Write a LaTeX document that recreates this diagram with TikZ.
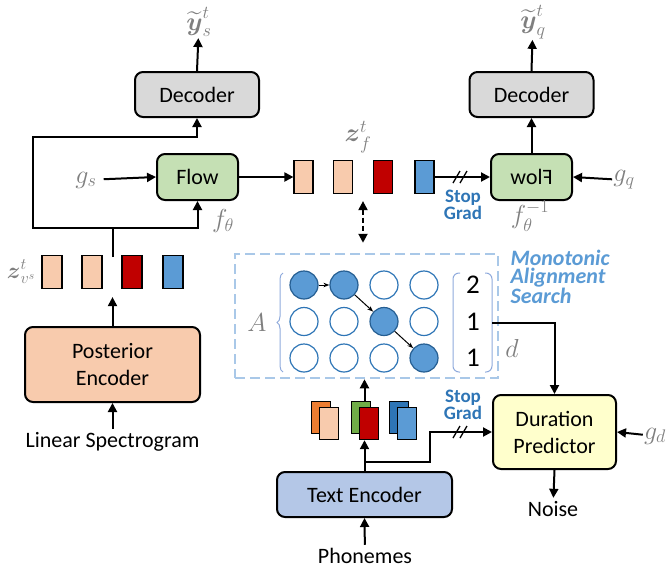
\RequirePackage{fix-cm}
\documentclass[tikz,border=0pt]{standalone}
\usepackage{amsmath}
\usepackage{amssymb}
\usepackage{fontspec}
\setmainfont{Carlito}
\usetikzlibrary{positioning}
\usetikzlibrary{decorations.pathreplacing}
\usetikzlibrary{arrows.meta,shapes}
\usetikzlibrary{calc}
\definecolor[named]{peach}{RGB}{248,203,173}
\definecolor[named]{darkred}{RGB}{192,0,0}
\definecolor[named]{midblue}{RGB}{91,155,213}
\definecolor[named]{deepblue}{RGB}{46,117,182}
\definecolor[named]{darkorange}{RGB}{237,125,49}
\definecolor[named]{leafgreen}{RGB}{112,173,71}

\begin{document}
\begin{tikzpicture}[x=1pt,y=-1pt]
    \definecolor{decgray}{RGB}{217,217,217};
    \definecolor{flowgreen}{RGB}{197,224,180};
    \definecolor{teblue}{RGB}{180,199,231};
    \definecolor{dpyellow}{RGB}{255,255,204};
    \definecolor{labgray}{RGB}{127,127,127};
    \definecolor{dashblue}{RGB}{169,200,232};
    \definecolor{braceblue}{RGB}{143,170,220};
\useasboundingbox (0,0) rectangle (670,571);
 \tikzstyle{every node}=[font=\fontsize{22}{27}\selectfont]
 \tikzstyle{box}=[draw,line width=2pt,rounded corners=8pt,align=center]
 \tikzstyle{vec}=[draw,line width=1.2pt,minimum width=20pt,minimum height=33pt,inner sep=0pt]
 \tikzstyle{lab}=[text=labgray,inner sep=1pt,font=\fontsize{26}{30}\selectfont]
 \tikzstyle{arr}=[line width=2pt,-{Triangle[length=9pt,width=9pt]}]
 \tikzstyle{sg}=[text=deepblue,align=center,font=\bfseries\fontsize{19}{16.5}\selectfont]
 \tikzstyle{dotempty}=[circle,draw=deepblue,line width=1.2pt,fill=white,minimum size=28pt,inner sep=0pt]
 \tikzstyle{dotfull}=[circle,draw=deepblue!80!black,line width=1.2pt,fill=midblue,minimum size=28pt,inner sep=0pt]
\node [box,fill=decgray,minimum width=124pt,minimum height=45pt] (decs) at (197,94.5) {Decoder};
\node [box,fill=flowgreen,minimum width=81pt,minimum height=46pt] (flows) at (197.5,177) {Flow};
\node [box,fill=peach,minimum width=175pt,minimum height=75pt] (post) at (112.5,364.5) {Posterior\\Encoder};
\node (lin) at (112.5,442) {Linear Spectrogram};
\foreach \x/\c [count=\i] in {52/peach,92/peach,132/darkred,173/midblue} {
    \node [vec,fill=\c] (zv\i) at (\x,272) {};
  }
\node [lab,font=\fontsize{23}{26}\selectfont] (zvl) at (21,272) {$\boldsymbol{z}^t_{v^s}$};
\node [lab] (ys) at (199,22) {$\widetilde{\boldsymbol{y}}^t_s$};
\node [lab] (gs) at (86,180) {$g_s$};
\node [lab] (fth) at (223,221) {$f_\theta$};
\foreach \x/\c [count=\i] in {303.5/peach,343/peach,383/darkred,424.5/midblue} {
    \node [vec,fill=\c,minimum width=19pt] (zf\i) at (\x,177) {};
  }
\node [lab] (zfl) at (358,137) {$\boldsymbol{z}^t_f$};
\node [box,fill=flowgreen,minimum width=81pt,minimum height=46pt] (flowq) at (531.5,177) {\reflectbox{Flow}};
\node [box,fill=decgray,minimum width=124pt,minimum height=45pt] (decq) at (531.5,94.5) {Decoder};
\node [lab] (yq) at (533,22) {$\widetilde{\boldsymbol{y}}^t_q$};
\node [lab] (gq) at (624,180) {$g_q$};
\node [lab] (fthi) at (530,216) {$f_\theta^{-1}$};
\node [sg] (sgq) at (463,205) {Stop\\Grad};
\node [draw=dashblue,line width=2.5pt,dash pattern=on 10pt off 5pt,minimum width=263pt,minimum height=124pt] (mas) at (366.5,316) {};
\node [anchor=west,align=left,text=midblue,font=\bfseries\itshape\fontsize{22}{18.5}\selectfont] (mast) at (507,277) {Monotonic\\Alignment\\Search};
\foreach \r in {0,1,2} {
  \foreach \c in {0,...,3} {
    \pgfmathtruncatemacro\on{(\r==0 && \c<2) || (\r>0 && \c==\r+1)}
    \ifnum\on=1 \def\dotstyle{dotfull}\else\def\dotstyle{dotempty}\fi
    \node [\dotstyle] (c\r\c) at ({304+40*\c},{285+36.5*\r}) {};
  }
}
\draw [-{Stealth[length=6pt,open]},line width=1pt] (c00) -- (c01);
\draw [-{Stealth[length=6pt,open]},line width=1pt] (c01) -- (c12);
\draw [-{Stealth[length=6pt,open]},line width=1pt] (c12) -- (c23);
\draw [braceblue,line width=1pt,decorate,decoration={brace,amplitude=6pt}] (283,372) -- (283,273);
\node [lab] (alab) at (257,323) {$A$};
\draw [braceblue,line width=1pt,rounded corners=6pt] (460,273) -- (453,273) -- (453,372) -- (460,372);
\draw [braceblue,line width=1pt,rounded corners=6pt] (485,273) -- (492,273) -- (492,372) -- (485,372);
\foreach \n/\y [count=\i] in {2/285,1/322,1/358} {
    \node [font=\fontsize{27}{30}\selectfont] (d\i) at (473,\y) {\n};
  }
\node [lab] (dl) at (512,348) {$d$};
\foreach \x/\cb/\cf [count=\i] in {311/darkorange/peach,351/leafgreen/darkred,389/deepblue/midblue} {
    \node [vec,fill=\cb,anchor=north west,minimum width=19pt,minimum height=32pt] (tb\i) at (\x,401) {};
    \node [vec,fill=\cf,anchor=north west,minimum width=19pt,minimum height=32pt] (tf\i) at (\x+8,407) {};
  }
\node [box,fill=teblue,minimum width=175pt,minimum height=45pt] (te) at (364.5,494.5) {Text Encoder};
\node (phon) at (365,556) {Phonemes};
\node [box,fill=dpyellow,minimum width=123pt,minimum height=74pt] (dp) at (554.5,432) {Duration\\Predictor};
\node (noise) at (553,509) {Noise};
\node [lab] (gd) at (655,436) {$g_d$};
\node [sg] (sgd) at (463,405) {Stop\\Grad};
\coordinate (split) at (112.5,228);
\coordinate (zvtop) at (112.5,257);
\coordinate (dout) at (492,323);
\coordinate (br) at (364.5,462);
\coordinate (zfmid) at ($(zf2.south)!0.5!(zf3.south)$);
\draw [arr] (decs.north) -- (ys);
\draw [arr,shorten <=6pt] (gs) -- (flows.west);
\draw [line width=2pt] (zvtop) -- (split);
\draw [arr] (split) -| (flows.south);
\draw [arr] (split) -- (33,228) -- (33,137) -| (decs.south);
\draw [arr,shorten >=8pt] (post.north) -- (post.north |- zv1.south);
\draw [arr] (lin) -- (post.south);
\draw [arr] (flows.east) -- (zf1.west);
\draw [arr] (zf4.east) -- (flowq.west);
\draw [arr] (gq) -- (flowq.east);
\draw [arr] (flowq.north) -- (decq.south);
\draw [arr] (decq.north) -- (yq);
\draw [line width=2pt,dash pattern=on 5pt off 3pt,{Triangle[length=9pt,width=9pt]}-{Triangle[length=9pt,width=9pt]},shorten <=7pt,shorten >=10pt] (zfmid) -- (zfmid |- mas.north);
\draw [arr] (dout) -| (dp.north);
\draw [arr] (te.north) -- (te.north |- tf2.south);
\draw [arr] (te.north |- tb2.north) -- (te.north |- mas.south);
\draw [arr] (br) -| (430,432) -- (dp.west);
\draw [arr] (gd) -- (dp.east);
\draw [arr] (dp.south) -- (noise);
\draw [arr] (phon) -- (te.south);
\foreach \y in {177,432} {
  \foreach \dx in {0,7} {
    \draw [line width=1.3pt] (453+\dx,\y+6) -- (460+\dx,\y-6);
  }
}
\end{tikzpicture}
\end{document}
